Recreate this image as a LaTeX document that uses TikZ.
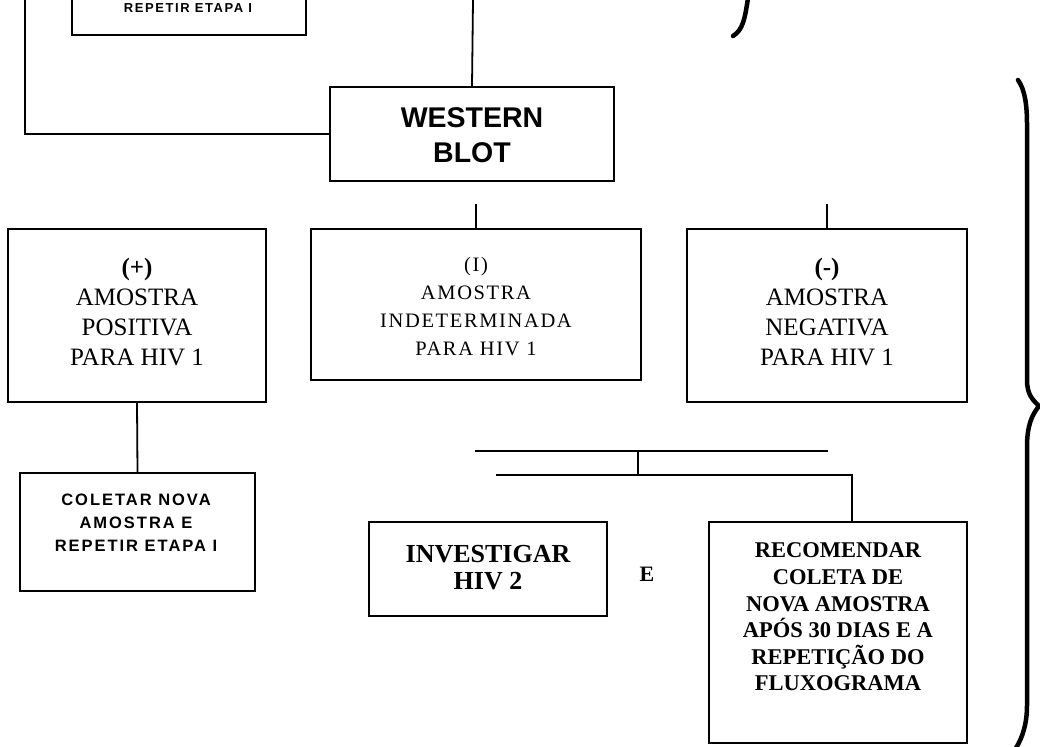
\documentclass[tikz,border=0pt]{standalone}
\usepackage{fontspec}
\setmainfont{Liberation Serif}
\setsansfont{Liberation Sans}
\newfontfamily\spacedserif[LetterSpace=8]{Liberation Serif}
\newfontfamily\spacedsans[LetterSpace=12]{Liberation Sans}
\begin{document}
\begin{tikzpicture}[x=1pt,y=-1pt,
  box/.style={draw,line width=1.8pt,rectangle,inner sep=0pt},
  conn/.style={line width=1.8pt},
  brace/.style={line width=4.5pt,line cap=round},
  lbl/.style={align=center,inner sep=0pt}]
\useasboundingbox (0,0) rectangle (1040,746);
\clip (0,0) rectangle (1040,746);

% top partial box
\node[box,minimum width=234pt,minimum height=80pt] (top) at (189,-5) {};
\node[lbl,font=\spacedsans\bfseries\fontsize{13}{16}\selectfont] (topt) at (188,8) {REPETIR ETAPA I};

% Western blot
\node[box,minimum width=284pt,minimum height=94pt] (wb) at (472,134) {};
\node[lbl,font=\sffamily\bfseries\fontsize{28.5}{35}\selectfont] (wbt) at (472,135) {WESTERN\\BLOT};

% result boxes
\node[box,minimum width=258pt,minimum height=173pt] (pos) at (137,315.5) {};
\node[lbl,font=\fontsize{25}{30}\selectfont] (post) at (137,312) {\textbf{(+)}\\AMOSTRA\\POSITIVA\\PARA HIV 1};

\node[box,minimum width=330pt,minimum height=151pt] (ind) at (476,304.5) {};
\node[lbl,font=\spacedserif\fontsize{20.5}{28}\selectfont] (indt) at (476,307) {(I)\\AMOSTRA\\INDETERMINADA\\PARA HIV 1};

\node[box,minimum width=280pt,minimum height=173pt] (neg) at (827,315.5) {};
\node[lbl,font=\fontsize{25}{30}\selectfont] (negt) at (827,312) {\textbf{(-)}\\AMOSTRA\\NEGATIVA\\PARA HIV 1};

% coletar
\node[box,minimum width=235pt,minimum height=118pt] (col) at (137.5,532) {};
\node[lbl,font=\spacedsans\bfseries\fontsize{16.5}{23}\selectfont] (colt) at (136,523) {COLETAR NOVA\\AMOSTRA E\\REPETIR ETAPA I};

% investigar
\node[box,minimum width=238pt,minimum height=94pt] (inv) at (488,569) {};
\node[lbl,font=\bfseries\fontsize{26}{27}\selectfont] (invt) at (488,568) {INVESTIGAR\\HIV 2};

\node[lbl,font=\bfseries\fontsize{22}{24}\selectfont] (e) at (647,574) {E};

% recomendar
\node[box,minimum width=258pt,minimum height=221pt] (rec) at (838,632.5) {};
\node[lbl,font=\bfseries\fontsize{22.5}{26.6}\selectfont] (rect) at (838,617) {RECOMENDAR\\COLETA DE\\NOVA AMOSTRA\\APÓS 30 DIAS E A\\REPETIÇÃO DO\\FLUXOGRAMA};

% connectors
\coordinate (topin) at (473,0);
\draw[conn] (topin) -- (wb.north);
\coordinate (leftin) at (25,0);
\draw[conn] (leftin) |- (wb.west);
\coordinate (s1) at (476,204);
\draw[conn] (s1) -- (ind.north);
\coordinate (s2) at (827,204);
\draw[conn] (s2) -- (neg.north);
\draw[conn] (pos.south) -- (col.north);

\coordinate (h1a) at (475,451);
\coordinate (h1b) at (828,451);
\coordinate (h1m) at (638,451);
\coordinate (h2m) at (638,475);
\coordinate (h2a) at (496,475);
\coordinate (h2b) at (852,475);
\coordinate (recin) at (852,522);
\draw[conn] (h1a) -- (h1b);
\draw[conn] (h1m) -- (h2m);
\draw[conn] (h2a) -- (h2b) -- (recin);

% braces
\draw[brace] (748,-2) .. controls (745,18) and (743,30) .. (733,36);
\draw[brace] (1018,80) .. controls (1025,90) and (1027,105) .. (1027,125) -- (1027,380)
  .. controls (1027,395) and (1033,400) .. (1039,406)
  .. controls (1032,415) and (1027,425) .. (1027,447) -- (1027,705)
  .. controls (1027,725) and (1022,738) .. (1016,748);
\end{tikzpicture}
\end{document}
